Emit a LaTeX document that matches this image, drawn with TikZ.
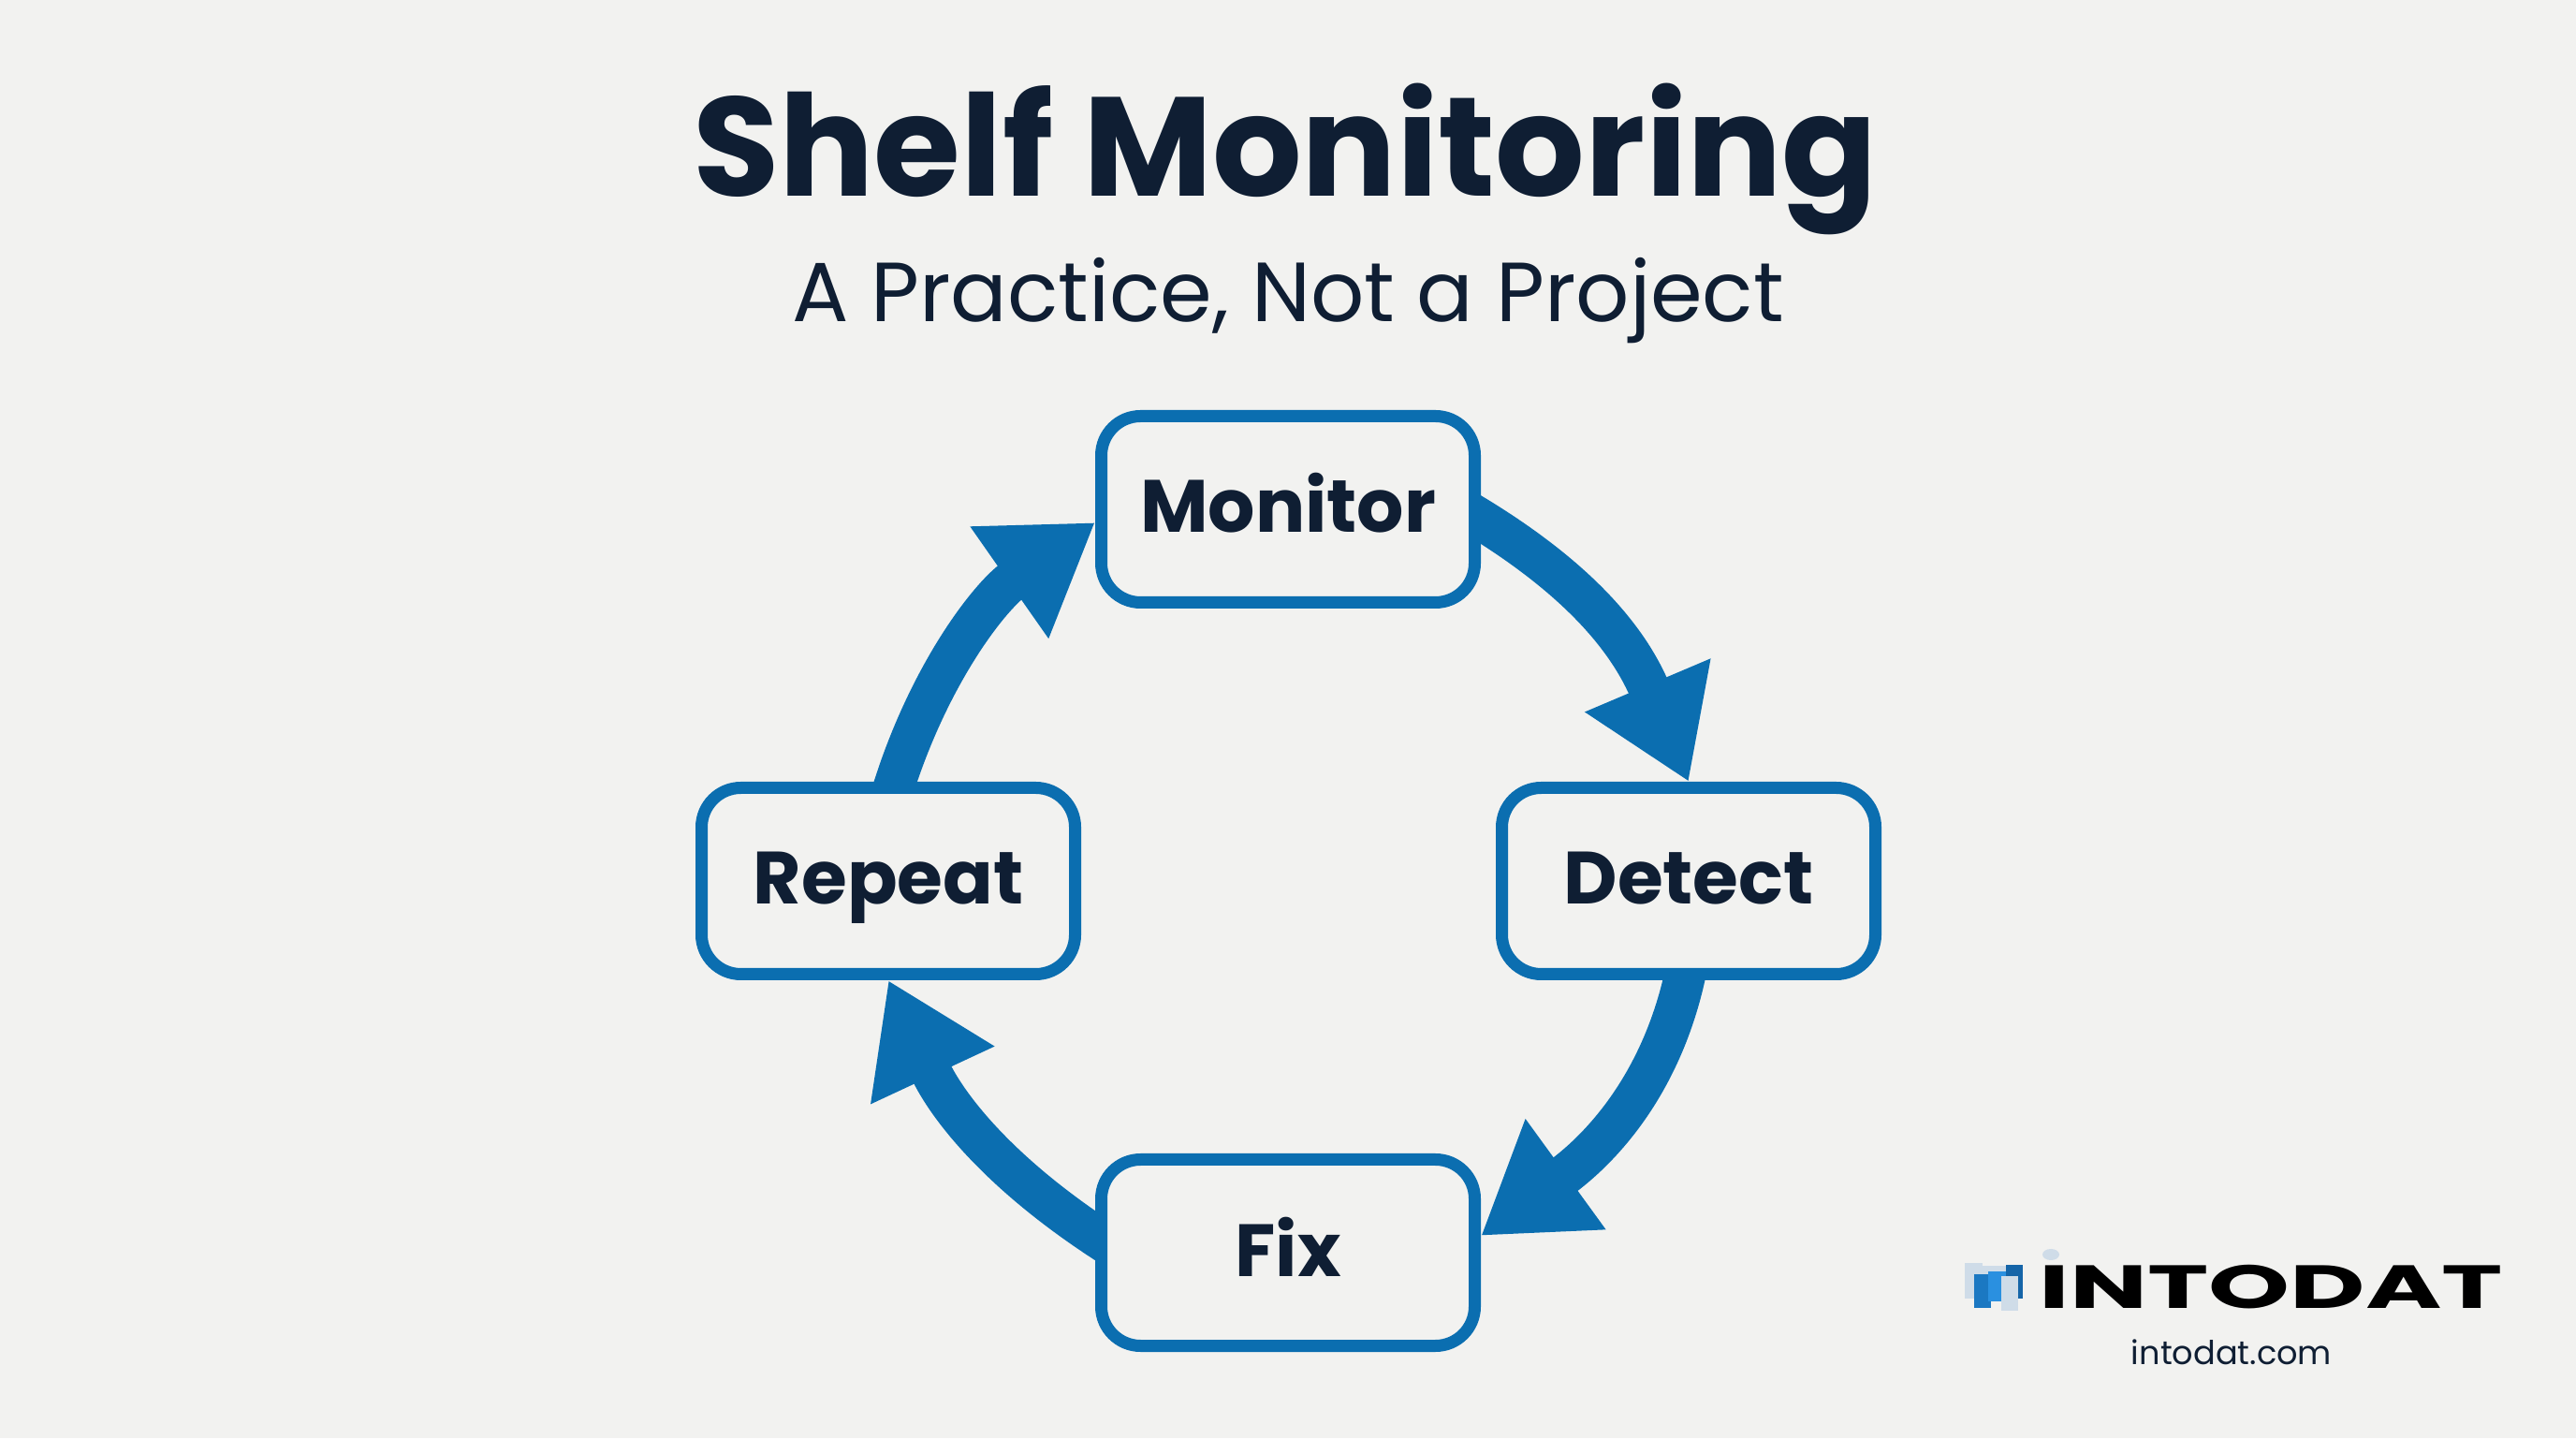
\documentclass[tikz,border=0pt]{standalone}
\usepackage{fontspec}
\setmainfont{Poppins}
\usetikzlibrary{arrows.meta,backgrounds}
\definecolor{paper}{HTML}{F2F2F0}
\definecolor{loopblue}{HTML}{0B6EB0}
\definecolor{inkblue}{HTML}{0F1E33}
\definecolor{logopale}{HTML}{CFDCE8}
\definecolor{logodeep}{HTML}{1565A8}
\definecolor{logomid}{HTML}{1B78C2}
\definecolor{logobright}{HTML}{2A90E0}
\tikzset{
  stagebox/.style={draw=loopblue, fill=paper, line width=0.13cm, rounded corners=0.42cm,
    minimum width=3.99cm, minimum height=1.99cm, text=inkblue,
    text height=0.6cm, text depth=0.1cm, font=\fontsize{22.5}{26}\selectfont\bfseries},
  looparrow/.style={draw=loopblue, line width=0.44cm, -{Triangle[length=1.12cm,width=1.38cm]}},
}
\begin{document}
\begin{tikzpicture}
  \useasboundingbox (0,0) rectangle (27.52,15.36);

  % Headings
  \node[anchor=base, text=inkblue, font=\fontsize{42.8}{50}\selectfont\bfseries] (title) at (13.73,13.26) {Shelf Monitoring};
  \node[anchor=base, text=inkblue, font=\fontsize{25.5}{30}\selectfont] (subtitle) at (13.76,11.92) {A Practice, Not a Project};

  % The four stages
  \foreach \name/\x/\y/\word in {monitor/13.76/9.92/Monitor, detect/18.04/5.95/Detect, fix/13.76/1.98/Fix, repeat/9.49/5.95/Repeat} {
    \node[stagebox] (\name) at (\x,\y) {\word};
  }

  % Arrows go behind the boxes
  \begin{scope}[on background layer]
    \fill[paper] (0,0) rectangle (27.52,15.36);
    \draw[looparrow] ([xshift=-0.25cm,yshift=0.04cm]monitor.east) to[out=-30, in=113, looseness=1.05] (detect.north);
    \draw[looparrow] ([yshift=0.25cm]detect.south) to[out=-100, in=36] ([yshift=0.18cm]fix.east);
    \draw[looparrow] ([xshift=0.25cm,yshift=0.02cm]fix.west) to[out=148, in=-65] (repeat.south);
    \draw[looparrow] ([yshift=-0.25cm]repeat.north) to[out=74, in=215, looseness=0.95] ([yshift=-0.14cm]monitor.west);
  \end{scope}

  % Logo mark
  \fill[logopale] (20.99,1.49) rectangle (21.18,1.87);
  \fill[logopale] (21.18,1.46) rectangle (21.43,1.84);
  \fill[logodeep] (21.43,1.49) rectangle (21.61,1.85);
  \fill[logomid] (21.09,1.39) rectangle (21.27,1.75);
  \fill[logobright] (21.24,1.46) rectangle (21.43,1.78);
  \fill[logopale] (21.38,1.36) rectangle (21.56,1.73);
  \fill[logopale] (21.91,1.96) ellipse (0.09 and 0.06);

  % Logo words
  \node[anchor=base west, inner sep=0pt, font=\fontsize{18.5}{22}\selectfont\bfseries] (brand) at (21.78,1.38) {\scalebox{1.7}[1]{INTODAT}};
  \node[anchor=base, text=inkblue, font=\fontsize{10}{12}\selectfont] (site) at (23.84,0.79) {intodat.com};
\end{tikzpicture}
\end{document}
